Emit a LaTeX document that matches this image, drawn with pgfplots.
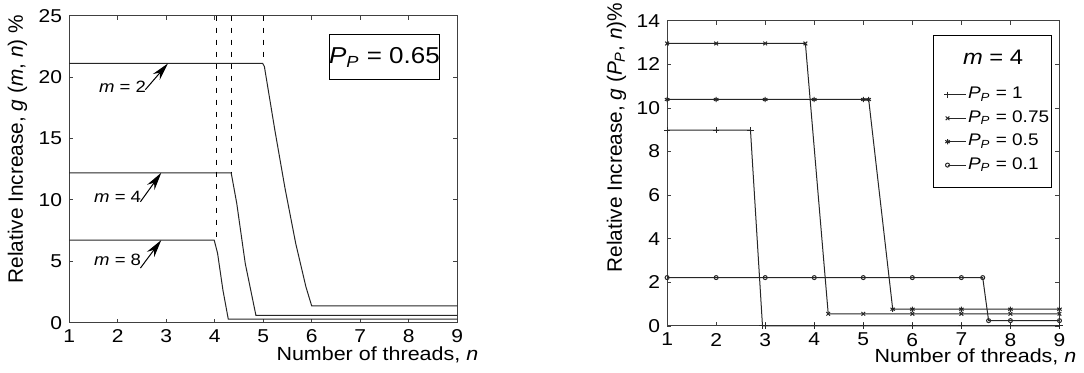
\documentclass[border=0pt]{standalone}
\usepackage{pgfplots}
\pgfplotsset{compat=1.18}
\usetikzlibrary{arrows.meta}
\usepackage{fontspec}
\setmainfont{Liberation Sans}[FakeStretch=1.13]
\newfontfamily\ylfont{Liberation Sans}
\newcommand\vi[1]{\textit{#1}}
\newcommand\ls{\rule[-2pt]{0pt}{8pt}}
\pgfplotsset{
  mybase/.style={
    scale only axis,
    xmin=1, xmax=9, xtick={1,...,9},
    axis line style={draw=black!75, line width=0.5pt},
    tick style={draw=black!75, line width=0.45pt},
    tick align=inside, tick pos=both, major tick length=2pt,
    /pgf/number format/assume math mode=true,
    ticklabel style={font=\fontsize{9.3}{11}\selectfont},
    xlabel style={font=\fontsize{9.5}{11}\selectfont, anchor=north east, inner sep=0pt},
    ylabel style={font=\ylfont\fontsize{10.4}{12}\selectfont, anchor=center},
    every axis plot/.append style={line width=0.5pt, draw=black!85},
  }
}
\begin{document}
\begin{tikzpicture}
\path[use as bounding box] (-34.55pt,-25.15pt) rectangle (507.45pt,161.35pt);
% ---------------- left axis ----------------
\begin{axis}[mybase,
  at={(0pt,0pt)}, anchor=south west,
  width=194.1pt, height=153.5pt,
  ymin=0, ymax=25, ytick={0,5,...,25},
  xlabel={Number of threads, \vi{n}},
  xlabel style={at={(axis description cs:1.055,0)}, yshift=-11.9pt},
  ylabel={Relative Increase, \vi{g} (\vi{m}, \vi{n}) \%},
  ylabel style={at={(axis description cs:-0.133,0.565)}},
]
% m = 2
\addplot[black!85] coordinates {(1,21.12) (4.99,21.12) (5.025,20.85) (5.24,15.69) (5.45,10.94) (5.67,6.46) (5.88,2.93) (6.0,1.36) (9,1.36)};
% m = 4
\addplot[black!85] coordinates {(1,12.21) (4.34,12.21) (4.455,9.72) (4.63,4.83) (4.85,0.6) (9,0.6)};
% m = 8
\addplot[black!85] coordinates {(1,6.73) (3.99,6.73) (4.06,5.65) (4.17,2.66) (4.28,0.3) (9,0.3)};
% dashed guides
\addplot[black, dash pattern=on 2.5pt off 3.5pt] coordinates {(4.04,25) (4.04,6.73)};
\addplot[black, dash pattern=on 2.5pt off 3.5pt] coordinates {(4.34,25) (4.34,12.21)};
\addplot[black, dash pattern=on 2.5pt off 3.5pt] coordinates {(5.0,25) (5.0,21.12)};
% annotations
\node[font=\fontsize{8.2}{10}\selectfont] at (axis cs:2.10,19.2) {\vi{m} = 2};
\node[font=\fontsize{8.2}{10}\selectfont] at (axis cs:2.00,10.26) {\vi{m} = 4};
\node[font=\fontsize{8.2}{10}\selectfont] at (axis cs:2.00,5.10) {\vi{m} = 8};
\draw[black, line width=0.5pt, -{Stealth[length=9pt,width=4.5pt]}] (axis cs:2.57,18.97) -- (axis cs:3.04,21.12);
\draw[black, line width=0.5pt, -{Stealth[length=9pt,width=4.5pt]}] (axis cs:2.47,9.85) -- (axis cs:2.90,12.21);
\draw[black, line width=0.5pt, -{Stealth[length=9pt,width=4.5pt]}] (axis cs:2.47,4.45) -- (axis cs:2.90,6.73);
\node[draw=black, line width=0.5pt, fill=white, inner sep=0pt, minimum width=52.2pt, minimum height=22.5pt,
      font=\fontsize{11.5}{13}\selectfont] at (axis cs:7.5,21.62) {\vi{P}\textsubscript{\vi{P}} = 0.65};
\end{axis}
% ---------------- right axis ----------------
\begin{axis}[mybase,
  at={(299pt,-1.65pt)}, anchor=south west,
  width=196.2pt, height=152.6pt,
  ymin=0, ymax=14, ytick={0,2,...,14},
  clip=false,
  xlabel={Number of threads, \vi{n}},
  xlabel style={at={(axis description cs:1.044,0)}, yshift=-11.2pt},
  ylabel={Relative Increase, \vi{g} (\vi{P}\textsubscript{\vi{P}}, \vi{n})\%},
  ylabel style={at={(axis description cs:-0.129,0.617)}},
  legend image code/.code={
    \path (-5.8pt,0pt);
    \draw[#1,mark=none] (0pt,0pt) -- (9.2pt,0pt);
    \draw[#1] plot coordinates {(0pt,0pt)};
  },
  legend cell align=left,
  legend style={
    at={(axis description cs:0.677,0.953)}, anchor=north west,
    draw=black, line width=0.5pt, fill=white,
    inner xsep=1.1pt, inner ysep=7.25pt,
    font=\fontsize{8.4}{9}\selectfont,
    row sep=3.7pt,
    nodes={inner sep=0pt, text depth=, text height=},
    /tikz/every odd column/.append style={column sep=0.8pt},
  },
]
\addlegendimage{empty legend}
\addlegendentry{\hspace{-2.5pt}\fontsize{10.5}{12}\selectfont\rule[-7.45pt]{0pt}{12.95pt}\vi{m} = 4}
\addplot[black!85, mark=+, mark size=1.6pt, mark options={solid}] coordinates {
 (1,8.99) (2,8.99) (2.70,8.99) (2.945,0) (3,0) (4,0) (5,0) (6,0) (7,0) (8,0) (9,0)};
\addlegendentry{\ls\vi{P}\textsubscript{\vi{P}} = 1}
\addplot[black!85, mark=x, mark size=1.3pt, mark options={solid}] coordinates {
 (1,12.96) (2,12.96) (3,12.96) (3.82,12.96) (4.285,0.56) (5,0.56) (6,0.56) (7,0.56) (8,0.56) (9,0.56)};
\addlegendentry{\ls\vi{P}\textsubscript{\vi{P}} = 0.75}
\addplot[black!85, mark=asterisk, mark size=1.3pt, mark options={solid}] coordinates {
 (1,10.39) (2,10.39) (3,10.39) (4,10.39) (5,10.39) (5.11,10.39) (5.60,0.77) (6,0.77) (7,0.77) (8,0.77) (9,0.77)};
\addlegendentry{\ls\vi{P}\textsubscript{\vi{P}} = 0.5}
\addplot[black!85, mark=o, mark size=1pt, mark options={solid}] coordinates {
 (1,2.22) (2,2.22) (3,2.22) (4,2.22) (5,2.22) (6,2.22) (7,2.22) (7.435,2.22) (7.555,0.245) (8,0.245) (9,0.245)};
\addlegendentry{\ls\vi{P}\textsubscript{\vi{P}} = 0.1}
\end{axis}
\end{tikzpicture}
\end{document}
